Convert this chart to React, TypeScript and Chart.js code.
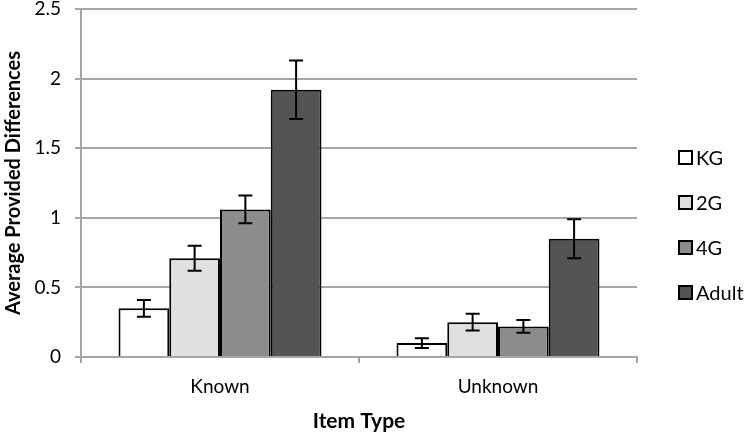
import React, { useEffect, useRef } from "react";
import { Chart, registerables } from "chart.js";

Chart.register(...registerables);

const categories = ["Known", "Unknown"];
const seriesNames = ["KG", "2G", "4G", "Adult"];
const kgValues = [0.35, 0.10];
const g2Values = [0.71, 0.25];
const g4Values = [1.06, 0.22];
const adultValues = [1.92, 0.85];
const kgErrors = [0.06, 0.035];
const g2Errors = [0.09, 0.06];
const g4Errors = [0.10, 0.045];
const adultErrors = [0.21, 0.14];
const seriesColors = ["#ffffff", "#e0e0e0", "#8c8c8c", "#545454"];

const FONT = "Lato, 'Open Sans', sans-serif";

const errorBarPlugin = {
  id: "errorBars",
  afterDatasetsDraw(chart: any) {
    const ctx = chart.ctx;
    const yScale = chart.scales.y;
    chart.data.datasets.forEach((ds: any, i: number) => {
      const meta = chart.getDatasetMeta(i);
      meta.data.forEach((bar: any, j: number) => {
        const v = ds.data[j];
        const e = ds.errors[j];
        const x = bar.x;
        const yTop = yScale.getPixelForValue(v + e);
        const yBot = yScale.getPixelForValue(v - e);
        ctx.save();
        ctx.strokeStyle = "#000";
        ctx.lineWidth = 2;
        ctx.beginPath();
        ctx.moveTo(x, yTop);
        ctx.lineTo(x, yBot);
        ctx.moveTo(x - 7, yTop);
        ctx.lineTo(x + 7, yTop);
        ctx.moveTo(x - 7, yBot);
        ctx.lineTo(x + 7, yBot);
        ctx.stroke();
        ctx.restore();
      });
    });
  },
};

const legendPlugin = {
  id: "customLegend",
  afterDraw(chart: any) {
    const ctx = chart.ctx;
    const startY = 158;
    const gap = 45;
    chart.data.datasets.forEach((ds: any, i: number) => {
      const y = startY + i * gap;
      ctx.save();
      ctx.fillStyle = ds.backgroundColor;
      ctx.strokeStyle = "#000";
      ctx.lineWidth = 2;
      ctx.fillRect(679, y - 7, 13, 13);
      ctx.strokeRect(679, y - 7, 13, 13);
      ctx.fillStyle = "#000";
      ctx.font = `20px ${FONT}`;
      ctx.textBaseline = "middle";
      ctx.textAlign = "left";
      ctx.fillText(ds.label, 696, y + 1);
      ctx.restore();
    });
  },
};

export default function App() {
  const ref = useRef<HTMLCanvasElement | null>(null);
  useEffect(() => {
    if (!ref.current) return;
    const allValues = [kgValues, g2Values, g4Values, adultValues];
    const allErrors = [kgErrors, g2Errors, g4Errors, adultErrors];
    const chart = new Chart(ref.current, {
      type: "bar",
      data: {
        labels: categories,
        datasets: seriesNames.map((name, i) => ({
          label: name,
          data: allValues[i],
          errors: allErrors[i],
          backgroundColor: seriesColors[i],
          borderColor: "#000",
          borderWidth: 2,
          borderSkipped: "bottom",
          categoryPercentage: 0.73,
          barPercentage: 1.0,
        })) as any,
      },
      options: {
        responsive: false,
        animation: false,
        devicePixelRatio: 1,
        layout: { padding: { top: 0, right: 113, left: 0, bottom: 0 } },
        plugins: {
          legend: { display: false },
          tooltip: { enabled: false },
        },
        scales: {
          x: {
            afterFit: (s: any) => { s.height = 81; s.paddingLeft = 0; s.paddingRight = 0; },
            grid: {
              offset: true,
              drawOnChartArea: false,
              drawTicks: true,
              tickLength: 6,
              color: "#a6a6a6",
              lineWidth: 2,
            },
            border: { color: "#a6a6a6", width: 2 },
            ticks: { color: "#000", font: { family: FONT, size: 19 }, padding: 12 },
            title: {
              display: true,
              text: "Item Type",
              color: "#000",
              font: { family: FONT, size: 21, weight: "bold" },
              padding: { top: 0, bottom: 4 },
            },
          },
          y: {
            min: 0,
            max: 2.5,
            afterFit: (s: any) => { s.width = 81; s.paddingTop = 9; s.paddingBottom = 0; },
            grid: { color: "#a6a6a6", lineWidth: 2, tickLength: 6 },
            border: { color: "#a6a6a6", width: 2 },
            ticks: {
              stepSize: 0.5,
              color: "#000",
              font: { family: FONT, size: 19 },
              padding: 14,
              callback: (v: any) => String(v),
            },
            title: {
              display: true,
              text: "Average Provided Differences",
              color: "#000",
              font: { family: FONT, size: 20, weight: "bold" },
              padding: { top: 2, bottom: 0 },
            },
          },
        },
      },
      plugins: [errorBarPlugin, legendPlugin],
    });
    return () => chart.destroy();
  }, []);
  return (
    <div style={{ position: "fixed", left: 0, top: 0, width: 750, height: 438, background: "#fff" }}>
      <canvas ref={ref} width={750} height={438} style={{ width: 750, height: 438 }} />
    </div>
  );
}
